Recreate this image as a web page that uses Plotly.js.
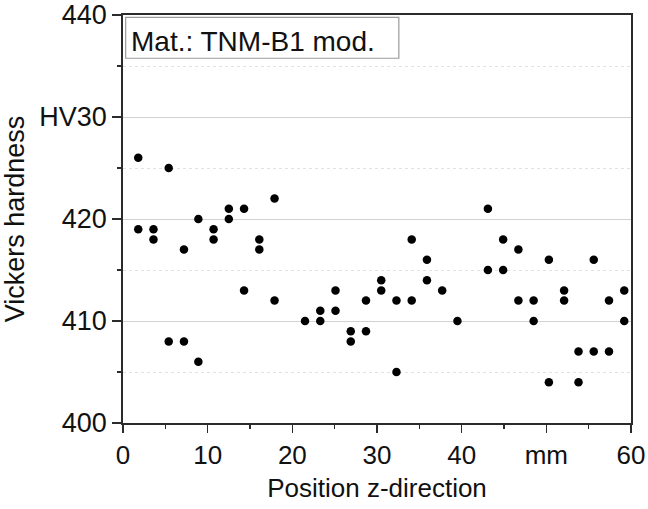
<!DOCTYPE html>
<html>
<head>
<meta charset="utf-8">
<script src="https://cdn.plot.ly/plotly-3.0.1.min.js"></script>
<style>
  html, body { margin: 0; padding: 0; background: #fff; }
  #chart { width: 648px; height: 509px; }
</style>
</head>
<body>
<div id="chart"></div>
<script>
// Position z-direction (mm)
const positions = [
  1.8, 1.8, 3.6, 3.6, 5.4, 5.4, 7.2, 7.2, 8.9, 8.9,
  10.7, 10.7, 12.5, 12.5, 14.3, 14.3, 16.1, 16.1, 17.9, 17.9,
  21.5, 23.3, 23.3, 25.1, 25.1, 26.9, 26.9, 28.7, 28.7,
  30.5, 30.5, 32.3, 32.3, 34.1, 34.1, 35.9, 35.9, 37.7, 39.5,
  43.1, 43.1, 44.9, 44.9, 46.7, 46.7, 48.5, 48.5, 50.3, 50.3,
  52.1, 52.1, 53.8, 53.8, 55.6, 55.6, 57.4, 57.4, 59.2, 59.2
];
// Vickers hardness HV30
const hardness = [
  426, 419, 419, 418, 425, 408, 417, 408, 420, 406,
  419, 418, 421, 420, 421, 413, 418, 417, 422, 412,
  410, 411, 410, 413, 411, 409, 408, 412, 409,
  414, 413, 412, 405, 418, 412, 416, 414, 413, 410,
  421, 415, 418, 415, 417, 412, 412, 410, 416, 404,
  413, 412, 407, 404, 416, 407, 412, 407, 413, 410
];
const xTickVals = [0, 10, 20, 30, 40, 50, 60];
const xTickText = ['0', '10', '20', '30', '40', 'mm', '60'];
const yTickVals = [400, 410, 420, 430, 440];
const yTickText = ['400', '410', '420', 'HV30', '440'];
const materialLabel = 'Mat.: TNM-B1 mod.';

const FONT = '"Liberation Sans", Arial, sans-serif';
const AX = '#2b2b2b';

const trace = {
  x: positions,
  y: hardness,
  type: 'scatter',
  mode: 'markers',
  marker: { color: '#000', size: 8.5, line: { width: 0 } },
  hoverinfo: 'x+y',
  showlegend: false
};

const layout = {
  width: 648,
  height: 509,
  margin: { l: 123, r: 17, t: 15, b: 86, pad: 0 },
  paper_bgcolor: '#fff',
  plot_bgcolor: '#fff',
  font: { family: FONT, color: '#111' },
  xaxis: {
    range: [0, 60],
    tickmode: 'array',
    tickvals: xTickVals,
    ticktext: xTickText,
    ticks: 'outside',
    ticklen: 8,
    tickwidth: 1.5,
    tickcolor: AX,
    tickfont: { size: 26, family: FONT, color: '#111' },
    showline: true,
    linecolor: AX,
    linewidth: 1.8,
    mirror: true,
    showgrid: false,
    zeroline: false,
    minor: { dtick: 5, tick0: 0, ticks: 'outside', ticklen: 4, tickwidth: 1.5, tickcolor: AX, showgrid: false },
    title: { text: 'Position z-direction', font: { size: 26, family: FONT, color: '#111' }, standoff: 10 }
  },
  yaxis: {
    range: [400, 440],
    tickmode: 'array',
    tickvals: yTickVals,
    ticktext: yTickText,
    ticks: 'outside',
    ticklen: 9,
    tickwidth: 1.5,
    tickcolor: AX,
    tickfont: { size: 27, family: FONT, color: '#111' },
    showline: true,
    linecolor: AX,
    linewidth: 1.8,
    mirror: true,
    showgrid: true,
    gridcolor: '#d2d2d2',
    gridwidth: 1,
    zeroline: false,
    minor: { dtick: 5, tick0: 0, ticks: 'outside', ticklen: 4, tickwidth: 1.5, tickcolor: AX,
             showgrid: true, gridcolor: '#e2e2e2', gridwidth: 1, griddash: 'dot' },
    title: { text: 'Vickers hardness', font: { size: 27, family: FONT, color: '#111' }, standoff: 10 }
  },
  shapes: [{
    type: 'rect', xref: 'paper', yref: 'paper',
    x0: 0.0053, x1: 0.543, y0: 0.894, y1: 0.9944,
    line: { color: '#9a9a9a', width: 1.2 }, fillcolor: 'rgba(0,0,0,0)'
  }],
  annotations: [{
    text: materialLabel,
    xref: 'paper', yref: 'paper',
    x: 0.0118, y: 0.9346,
    xanchor: 'left', yanchor: 'middle',
    showarrow: false,
    font: { size: 28, family: FONT, color: '#111' }
  }]
};

Plotly.newPlot('chart', [trace], layout, { displayModeBar: false, staticPlot: true });
</script>
</body>
</html>
